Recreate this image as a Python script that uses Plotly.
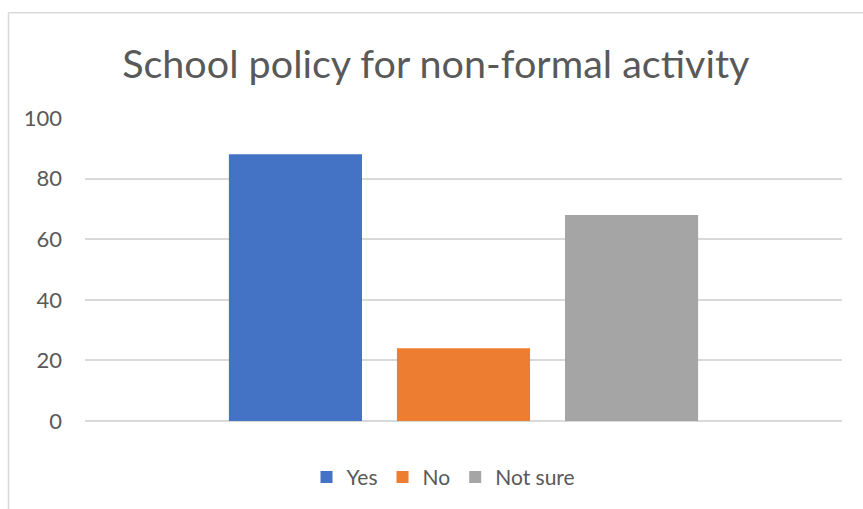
import plotly.graph_objects as go

# Survey responses on school policy for non-formal activity
categories = ["School policy"]
series_names = ["Yes", "No", "Not sure"]
series_values = [[88], [24], [68]]
series_colors = ["#4472C4", "#ED7D31", "#A5A5A5"]
y_ticks = [0, 20, 40, 60, 80, 100]

W, H = 863, 509
ML, MR, MT, MB = 85, 21, 118, 87
plot_w = W - ML - MR
plot_h = H - MT - MB

fig = go.Figure()
for name, vals, col in zip(series_names, series_values, series_colors):
    fig.add_trace(go.Bar(x=categories, y=vals, name=name, marker_color=col,
                         marker_line_width=0))

# chart-area border (top and left edges visible)
bx = (8.5 - ML) / plot_w
by = 1 + (MT - 12.5) / plot_h
fig.add_shape(type="line", xref="paper", yref="paper", x0=bx, x1=1.2, y0=by, y1=by,
              line=dict(color="#D9D9D9", width=1.5), layer="below")
fig.add_shape(type="line", xref="paper", yref="paper", x0=bx, x1=bx, y0=by, y1=-0.5,
              line=dict(color="#D9D9D9", width=1.5), layer="below")

fig.update_layout(
    width=W, height=H,
    margin=dict(l=ML, r=MR, t=MT, b=MB),
    paper_bgcolor="white", plot_bgcolor="white",
    barmode="group", bargap=0.334, bargroupgap=0.208,
    font=dict(family="Lato", color="#595959"),
    title=dict(text="School policy for non-formal activity", x=0.505, xanchor="center",
               y=1 - 64 / H, yanchor="middle", yref="container",
               font=dict(size=39.5, color="#595959", family="Lato")),
    xaxis=dict(showticklabels=False, showgrid=False, zeroline=False, showline=False,
               range=[-0.5, 0.5]),
    yaxis=dict(range=[0, 100], tickvals=y_ticks, ticktext=[str(v) for v in y_ticks],
               showgrid=True, gridcolor="#D9D9D9", gridwidth=1.5,
               zeroline=True, zerolinecolor="#D9D9D9", zerolinewidth=1.5,
               showline=False, ticks="", ticklabelstandoff=22,
               tickfont=dict(size=22, color="#595959")),
    legend=dict(orientation="h", x=0.5 - 20 / plot_w, xanchor="center",
                y=-(477 - 421.7) / plot_h,
                yanchor="middle", font=dict(size=21, color="#595959"),
                itemwidth=30, traceorder="normal"),
    showlegend=True,
)

fig.write_html("out.html")
